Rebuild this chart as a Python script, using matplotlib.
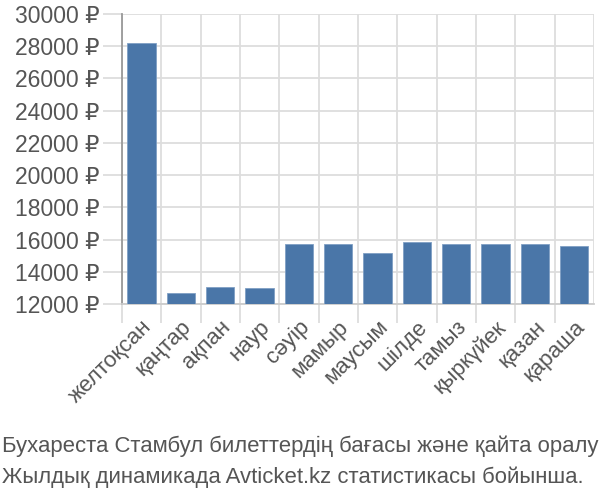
import numpy as np
import matplotlib.pyplot as plt

# Деректер
months = ['желтоқсан', 'қаңтар', 'ақпан', 'наур', 'сәуір', 'мамыр',
          'маусым', 'шілде', 'тамыз', 'қыркүйек', 'қазан', 'қараша']
prices = [28220, 12660, 13070, 12970, 15720, 15720,
          15190, 15830, 15720, 15720, 15720, 15600]
yticks = list(range(12000, 30001, 2000))
caption = ['Бухареста Стамбул билеттердің бағасы және қайта оралу',
           'Жылдық динамикада Avticket.kz статистикасы бойынша.']

plt.rcParams['font.family'] = ['Liberation Sans', 'DejaVu Sans']

fig = plt.figure(figsize=(6, 5), dpi=100)
ax = fig.add_axes([0.203, 0.392, 0.787, 0.580])

x = np.arange(len(months))
ax.bar(x, prices, width=0.72, color='#4a76a8', edgecolor='#7f9fc4',
       linewidth=0.6, zorder=3)

ax.set_xlim(-0.5, len(months) - 0.5)
ax.set_ylim(12000, 30000)

# сетка
grid_c = '#dddddd'
ax.set_yticks(yticks)
ax.set_yticklabels([f'{v} ₽' for v in yticks])
ax.set_xticks(x - 0.5, minor=True)
ax.set_xticks(x)
ax.set_xticklabels(months, rotation=45, ha='right', rotation_mode='anchor')
ax.grid(axis='y', color=grid_c, linewidth=1.3, zorder=0)
ax.grid(axis='x', which='minor', color=grid_c, linewidth=1.3, zorder=0)
ax.axvline(len(months) - 0.5, color=grid_c, linewidth=1.3, zorder=0)

ax.tick_params(axis='x', which='major', length=0, pad=9, labelsize=16,
               labelcolor='#555555')
ax.tick_params(axis='x', which='minor', length=14, width=1.3, color=grid_c)
ax.tick_params(axis='y', length=14, width=1.3, color=grid_c, labelsize=16.5,
               labelcolor='#555555', pad=2)

for s in ['top', 'right']:
    ax.spines[s].set_visible(False)
ax.spines['bottom'].set_color('#cccccc')
ax.spines['bottom'].set_linewidth(1.3)
ax.spines['left'].set_color('#999999')
ax.spines['left'].set_linewidth(1.3)

fig.text(0.003, 0.096, caption[0], fontsize=15.9, color='#555555',
         va='baseline')
fig.text(0.003, 0.034, caption[1], fontsize=15.9, color='#555555',
         va='baseline')

fig.savefig('out.png', dpi=100)
